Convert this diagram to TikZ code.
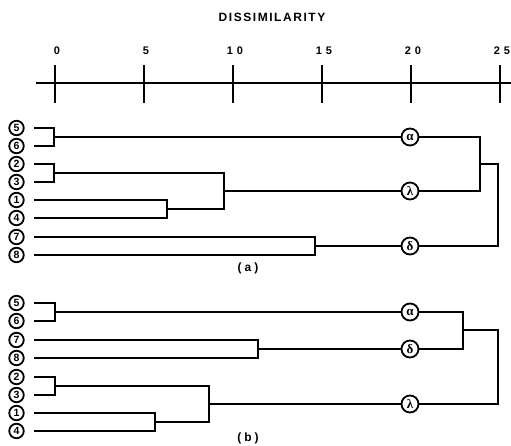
\documentclass[tikz,border=0pt]{standalone}
\usepackage{fontspec}
\setmainfont{Liberation Sans}
\newfontfamily\titlefont[LetterSpace=13]{Liberation Sans Bold}
\newfontfamily\tickfont[LetterSpace=35]{Liberation Sans Bold}
\newfontfamily\subfont[LetterSpace=25]{Liberation Sans Bold}
\newfontfamily\leaffont{Liberation Sans Bold}
\newfontfamily\grkfont{Liberation Serif Bold}
\begin{document}
\begin{tikzpicture}[x=1pt,y=-1pt,
  line width=1.9pt,
  leaf/.style={circle,draw,line width=1.8pt,minimum size=14.5pt,inner sep=0pt,font=\leaffont\fontsize{10.5}{10.5}\selectfont},
  grk/.style={circle,draw,line width=1.8pt,minimum size=17pt,inner sep=0pt,font=\grkfont\fontsize{13}{13}\selectfont},
  tickl/.style={font=\tickfont\fontsize{11}{11}\selectfont},
  sub/.style={font=\subfont\fontsize{12}{12}\selectfont}]
\useasboundingbox (0,0) rectangle (511,445);
% title and axis
\node[font=\titlefont\fontsize{12}{12}\selectfont] (title) at (272,17) {DISSIMILARITY};
\coordinate (axl) at (36,83);
\coordinate (axr) at (511,83);
\draw (axl) -- (axr);
\foreach \v/\xx in {0/55,5/144,10/233,15/322,20/411,25/500}{
  \draw[line width=2.3pt] (\xx,65) -- (\xx,103);
  \node[tickl] (t\v) at (\xx+2,51) {\v};
}
% ---------- panel (a) ----------
\foreach \n/\yy in {5/128,6/146,2/164,3/182,1/200,4/218,7/237,8/255}{
  \node[leaf] (l\n a) at (16.5,\yy) {\n};
  \coordinate (s\n a) at (34,\yy);
}
\coordinate (j56a) at (54,137);
\coordinate (j23a) at (54,173);
\coordinate (j14a) at (167,209);
\coordinate (j2314a) at (224,191);
\coordinate (j78a) at (315,246);
\coordinate (jala) at (480,164);
\coordinate (ra) at (498,164);
\node[grk] (alpa) at (410,137) {α};
\node[grk] (lama) at (410,191) {λ};
\node[grk] (dela) at (410,246) {δ};
\draw (s5a) -| (j56a) |- (s6a);
\draw (s2a) -| (j23a) |- (s3a);
\draw (s1a) -| (j14a) |- (s4a);
\draw (s7a) -| (j78a) |- (s8a);
\draw (j23a) -| (j2314a) |- (j14a);
\draw (j56a) -- (alpa);
\draw (j2314a) -- (lama);
\draw (j78a) -- (dela);
\draw (alpa) -| (jala) |- (lama);
\draw (jala) -- (ra) |- (dela);
\node[sub] (capa) at (248,268) {(a)};
% ---------- panel (b) ----------
\foreach \n/\yy in {5/303,6/321,7/340,8/358,2/377,3/395,1/413,4/431}{
  \node[leaf] (l\n b) at (16.5,\yy) {\n};
  \coordinate (s\n b) at (34,\yy);
}
\coordinate (j56b) at (55,312);
\coordinate (j78b) at (258,349);
\coordinate (j23b) at (55,386);
\coordinate (j14b) at (155,422);
\coordinate (j2314b) at (209,404);
\coordinate (jadb) at (463,330);
\coordinate (rb) at (498,330);
\node[grk] (alpb) at (410,312) {α};
\node[grk] (delb) at (410,349) {δ};
\node[grk] (lamb) at (410,404) {λ};
\draw (s5b) -| (j56b) |- (s6b);
\draw (s7b) -| (j78b) |- (s8b);
\draw (s2b) -| (j23b) |- (s3b);
\draw (s1b) -| (j14b) |- (s4b);
\draw (j23b) -| (j2314b) |- (j14b);
\draw (j56b) -- (alpb);
\draw (j78b) -- (delb);
\draw (j2314b) -- (lamb);
\draw (alpb) -| (jadb) |- (delb);
\draw (jadb) -- (rb) |- (lamb);
\node[sub] (capb) at (248,438) {(b)};
\end{tikzpicture}
\end{document}
